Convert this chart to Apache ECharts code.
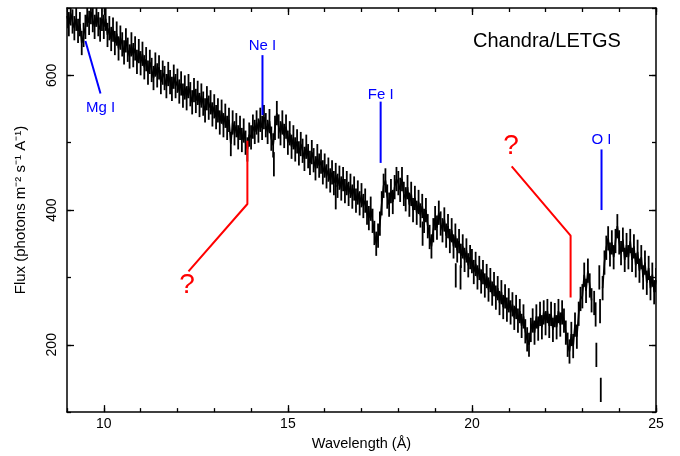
<!DOCTYPE html>
<html><head><meta charset="utf-8">
<script src="https://cdn.jsdelivr.net/npm/echarts@6/dist/echarts.min.js"></script>
<style>html,body{margin:0;padding:0;background:#fff}#c{width:680px;height:456px}</style>
</head><body><div id="c"></div>
<script>
// Spectrum sampled on a regular wavelength grid (Å)
const waveStart = 9.0;
const waveStep = 0.05;
// Flux (photons m^-2 s^-1 A^-1); null = gap in the connected spectrum
const flux = [
  688,676,692,680,670,684,666,676,648,660,672,690,678,694,682,672,690,676,668,684,
  672,684,660,670,654,668,648,662,640,656,646,634,652,638,628,646,630,640,620,636,
  618,632,612,624,604,620,608,596,616,600,612,590,604,596,584,602,590,580,598,584,
  592,576,588,570,582,566,584,572,560,578,562,574,556,570,558,548,566,552,560,542,
  554,538,548,530,546,526,540,522,534,498,530,514,526,508,522,504,518,500,490,512,
  508,524,516,530,518,534,522,538,526,516,532,506,496,522,544,524,514,530,510,524,
  500,514,494,508,490,502,484,498,488,476,494,480,470,486,474,462,480,466,472,456,
  466,450,460,444,456,440,452,436,448,432,446,428,440,424,436,420,432,414,426,410,
  422,406,414,396,388,402,384,366,350,362,380,410,436,444,420,408,428,412,434,446,
  440,430,446,424,416,434,408,424,400,418,396,412,392,406,384,400,376,360,346,370,
  388,374,396,380,370,386,362,376,354,370,346,362,340,354,332,346,326,340,318,330,
  324,308,320,300,314,294,308,288,302,282,296,276,290,270,284,262,278,256,272,252,
  266,248,260,240,256,236,250,228,242,220,208,200,222,236,218,242,224,246,226,248,
  232,250,228,246,222,244,226,250,230,248,236,218,200,190,216,198,230,212,246,268,
  272,304,280,310,288,266,null,null,null,null,null,284,322,344,358,334,352,330,354,376,
  352,336,356,326,348,330,354,326,346,318,338,310,330,300,322,292,314,284,304,278,
  296
];
const fluxErr = 18;
// Unconnected single bins
const isolatedWave = [14.62, 16.30, 18.66, 19.56, 19.69, 23.32, 23.36, 23.38, 23.46, 23.48, 23.50];
const isolatedFlux = [468, 419, 365, 303, 300, 262, 245, 185, 300, 250, 133];

// Annotations in data coordinates
const lineIds = ['Mg I', 'Ne I', 'Fe I', 'O I'];
const lineIdPaths = [
  [[9.50, 651], [9.91, 573]],
  [[14.31, 630], [14.31, 541]],
  [[17.52, 561], [17.52, 470]],
  [[23.52, 490], [23.52, 400]]
];
const lineIdTextPos = [[9.91, 552], [14.31, 644], [17.52, 571], [23.52, 504]];
const unknownPaths = [
  [[13.90, 503], [13.90, 409], [12.30, 309]],
  [[22.68, 270], [22.68, 362], [21.08, 465]]
];
const unknownTextPos = [[12.26, 289], [21.06, 494]];

const xMajor = [10, 15, 20, 25];
const xMinor = [9,10,11,12,13,14,15,16,17,18,19,20,21,22,23,24,25];
const yMajor = [200, 400, 600];
const yMinor = [100, 200, 300, 400, 500, 600, 700];

const FONT = 'Liberation Sans, Arial, Helvetica, sans-serif';

const spectrum = flux.map((f, i) => [waveStart + i * waveStep, f === null ? '-' : f]);
const errBars = [];
flux.forEach((f, i) => { if (f !== null) errBars.push([waveStart + i * waveStep, f - fluxErr, f + fluxErr]); });
isolatedWave.forEach((w, i) => errBars.push([w, isolatedFlux[i] - fluxErr, isolatedFlux[i] + fluxErr]));

function axisX(pos, major, showLine, showLabel) {
  return {
    type: 'value', min: 9, max: 25, position: pos, gridIndex: 0,
    axisLine: { show: showLine, onZero: false, lineStyle: { color: '#000', width: 1.5 } },
    axisTick: { show: true, inside: true, length: major ? 7 : 4, customValues: major ? xMajor : xMinor,
      lineStyle: { color: '#000', width: 1.3 } },
    axisLabel: { show: showLabel, customValues: xMajor, color: '#000', fontSize: 14, fontFamily: FONT, margin: 5 },
    splitLine: { show: false }
  };
}
function axisY(pos, major, showLine, showLabel) {
  return {
    type: 'value', min: 100, max: 700, position: pos, gridIndex: 0,
    axisLine: { show: showLine, onZero: false, lineStyle: { color: '#000', width: 1.5 } },
    axisTick: { show: true, inside: true, length: major ? 7 : 4, customValues: major ? yMajor : yMinor,
      lineStyle: { color: '#000', width: 1.3 } },
    axisLabel: { show: showLabel, customValues: yMajor, rotate: 90, color: '#000', fontSize: 14, fontFamily: FONT, margin: 8 },
    splitLine: { show: false }
  };
}

const xAxes = [axisX('bottom', true, true, true), axisX('bottom', false, false, false),
               axisX('top', true, true, false), axisX('top', false, false, false)];
xAxes[0].name = 'Wavelength (Å)';
xAxes[0].nameLocation = 'middle';
xAxes[0].nameGap = 21;
xAxes[0].nameTextStyle = { color: '#000', fontSize: 14.5, fontFamily: FONT };
const yAxes = [axisY('left', true, true, true), axisY('left', false, false, false),
               axisY('right', true, true, false), axisY('right', false, false, false)];
yAxes[0].name = 'Flux (photons m\u207B\u00B2 s\u207B\u00B9 A\u207B\u00B9)';
yAxes[0].nameLocation = 'middle';
yAxes[0].nameGap = 39;
yAxes[0].nameTextStyle = { color: '#000', fontSize: 15, fontFamily: FONT };

const series = [
  { type: 'line', data: spectrum, symbol: 'none', connectNulls: false, silent: true,
    lineStyle: { color: '#000', width: 1.6 }, z: 3 },
  { type: 'custom', data: errBars, clip: true, silent: true, z: 3, progressive: 0,
    renderItem: (p, api) => {
      const a = api.coord([api.value(0), api.value(1)]);
      const b = api.coord([api.value(0), api.value(2)]);
      return { type: 'line', shape: { x1: a[0], y1: a[1], x2: b[0], y2: b[1] },
        style: { stroke: '#000', lineWidth: 1.8 } };
    } }
];
lineIdPaths.forEach(path => series.push({ type: 'line', data: path, symbol: 'none', silent: true,
  lineStyle: { color: '#0000ff', width: 2 }, z: 4 }));
unknownPaths.forEach(path => series.push({ type: 'line', data: path, symbol: 'none', silent: true,
  lineStyle: { color: '#ff0000', width: 2 }, z: 4 }));
series.push({ type: 'custom', data: lineIdTextPos, silent: true, z: 5,
  renderItem: (p, api) => {
    const c = api.coord([api.value(0), api.value(1)]);
    return { type: 'text', x: c[0], y: c[1],
      style: { text: lineIds[p.dataIndex], fill: '#0000ff', font: '15px ' + FONT, align: 'center', verticalAlign: 'middle' } };
  } });
series.push({ type: 'custom', data: unknownTextPos, silent: true, z: 5,
  renderItem: (p, api) => {
    const c = api.coord([api.value(0), api.value(1)]);
    return { type: 'text', x: c[0], y: c[1],
      style: { text: '?', fill: '#ff0000', font: '28px ' + FONT, align: 'center', verticalAlign: 'middle' } };
  } });

const chart = echarts.init(document.getElementById('c'), null, { renderer: 'canvas' });
chart.setOption({
  animation: false,
  backgroundColor: '#fff',
  grid: { left: 67, right: 24, top: 8, bottom: 38 },
  xAxis: xAxes,
  yAxis: yAxes,
  graphic: [{ type: 'text', left: 473, top: 31,
    style: { text: 'Chandra/LETGS', fill: '#000', font: '20px ' + FONT } }],
  series: series
});
</script></body></html>
